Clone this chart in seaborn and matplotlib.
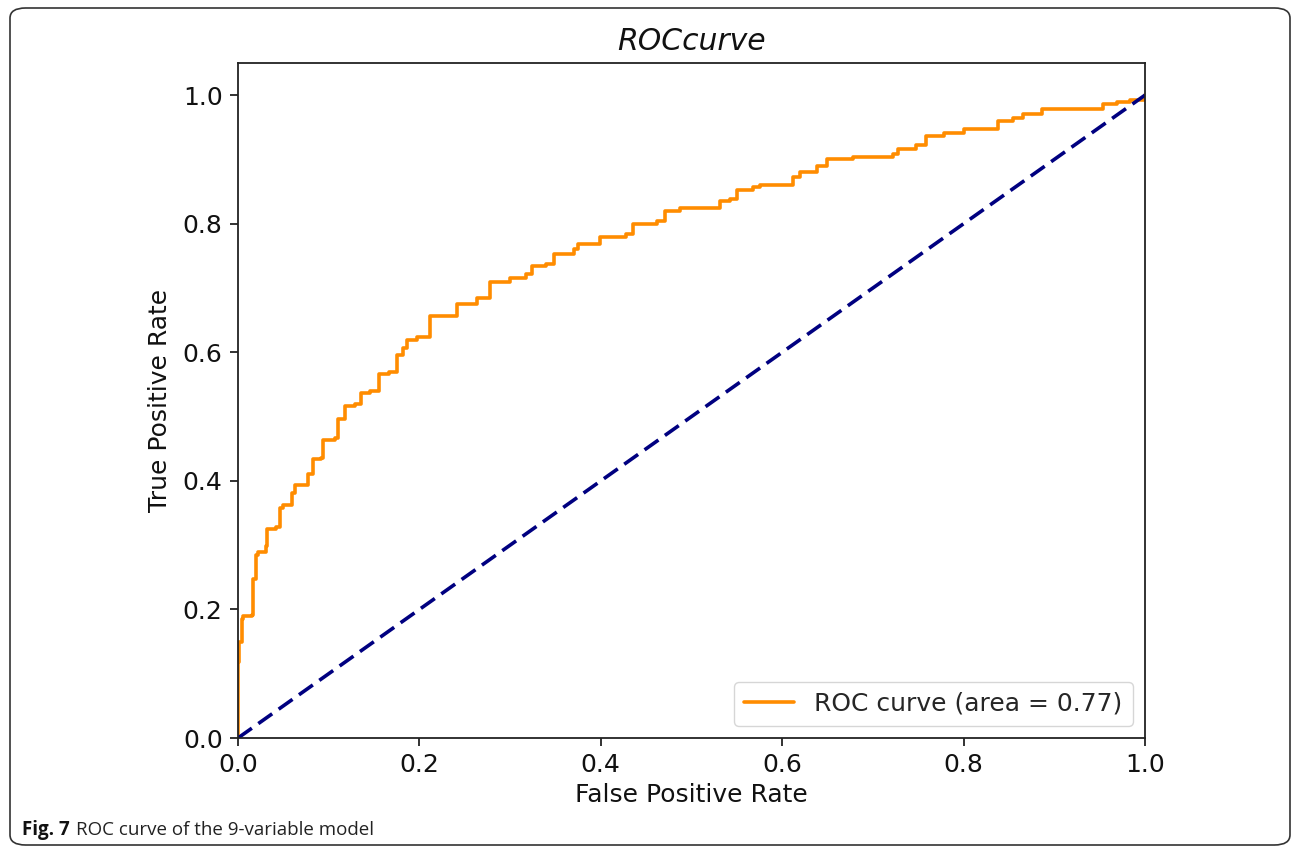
import matplotlib
matplotlib.use("Agg")
import matplotlib.pyplot as plt
from matplotlib.patches import FancyBboxPatch
import seaborn as sns
import pandas as pd

fpr = [0.0, 0.0, 0.001, 0.004, 0.006, 0.015, 0.016, 0.02, 0.022, 0.031,
       0.032, 0.042, 0.046, 0.050, 0.059, 0.063, 0.074, 0.077, 0.083, 0.092,
       0.094, 0.107, 0.110, 0.118, 0.129, 0.136, 0.145, 0.155, 0.166, 0.175,
       0.182, 0.186, 0.197, 0.212, 0.234, 0.241, 0.263, 0.278, 0.300, 0.318,
       0.324, 0.340, 0.348, 0.370, 0.375, 0.395, 0.399, 0.428, 0.436, 0.462,
       0.471, 0.487, 0.520, 0.531, 0.542, 0.550, 0.568, 0.576, 0.598, 0.612,
       0.620, 0.638, 0.649, 0.675, 0.678, 0.711, 0.722, 0.728, 0.748, 0.758,
       0.778, 0.800, 0.836, 0.838, 0.855, 0.866, 0.884, 0.886, 0.943, 0.954,
       0.969, 0.983, 1.0]
tpr = [0.0, 0.119, 0.15, 0.185, 0.19, 0.192, 0.248, 0.285, 0.29, 0.298,
       0.325, 0.328, 0.358, 0.362, 0.381, 0.394, 0.394, 0.41, 0.434, 0.436,
       0.464, 0.466, 0.497, 0.517, 0.519, 0.536, 0.540, 0.566, 0.570, 0.596,
       0.606, 0.619, 0.624, 0.656, 0.656, 0.675, 0.685, 0.709, 0.716, 0.722,
       0.734, 0.738, 0.753, 0.761, 0.768, 0.768, 0.779, 0.784, 0.799, 0.804,
       0.820, 0.825, 0.825, 0.835, 0.838, 0.852, 0.857, 0.861, 0.861, 0.872,
       0.881, 0.890, 0.900, 0.900, 0.904, 0.904, 0.908, 0.917, 0.923, 0.936,
       0.941, 0.947, 0.947, 0.960, 0.964, 0.970, 0.971, 0.978, 0.978, 0.987,
       0.990, 0.992, 1.0]
diag_x = [0.0, 1.0]
diag_y = [0.0, 1.0]
auc_label = "ROC curve (area = 0.77)"
title = "ROCcurve"
xlabel = "False Positive Rate"
ylabel = "True Positive Rate"
caption_bold = "Fig. 7"
caption_text = "ROC curve of the 9-variable model"
ticks = [0.0, 0.2, 0.4, 0.6, 0.8, 1.0]

sns.set_style("ticks")
plt.rcParams['font.family'] = ['DejaVu Sans']

fig = plt.figure(figsize=(12.98, 8.48), dpi=100)
ax = fig.add_axes([238/1298, 1-738/848, (1145-238)/1298, (738-63)/848])

df = pd.DataFrame({"fpr": fpr, "tpr": tpr})
sns.lineplot(data=df, x="fpr", y="tpr", sort=False, estimator=None,
             color="darkorange", lw=2.6, label=auc_label, ax=ax,
             drawstyle="steps-post")
ddf = pd.DataFrame({"x": diag_x, "y": diag_y})
sns.lineplot(data=ddf, x="x", y="y", sort=False, estimator=None,
             color="navy", lw=2.6, ax=ax, dashes=False)
ax.lines[-1].set_dashes((4.7, 2.2))

ax.set_xlim(0.0, 1.0)
ax.set_ylim(0.0, 1.05)
ax.set_xticks(ticks)
ax.set_yticks(ticks)
ax.set_xticklabels([f"{t:.1f}" for t in ticks])
ax.set_yticklabels([f"{t:.1f}" for t in ticks])
ax.tick_params(labelsize=18, length=6, width=1.3, pad=5, color="#222222", labelcolor="#111111")
for s in ax.spines.values():
    s.set_linewidth(1.3)
    s.set_color("#222222")
ax.set_xlabel(xlabel, fontsize=18, color="#111111", labelpad=4)
ax.set_ylabel(ylabel, fontsize=18, color="#111111", labelpad=8)
ax.set_title(title, fontsize=21.5, style="italic", color="#111111", pad=9)
leg = ax.legend(loc="lower right", fontsize=18, frameon=True, fancybox=True,
                borderpad=0.4, handlelength=2.0)
leg.get_frame().set_edgecolor("#cccccc")

frame = FancyBboxPatch((10/1298, 1-845/848), (1290-10)/1298, (845-8)/848,
                       boxstyle="round,pad=0,rounding_size=0.012",
                       transform=fig.transFigure, fill=False,
                       edgecolor="#333333", linewidth=1.2, clip_on=False)
fig.patches.append(frame)

fig.text(22/1298, 1-830/848, caption_bold, fontsize=13.5, fontweight="bold",
         family=["Open Sans", "DejaVu Sans"], va="center", ha="left", color="#111111")
fig.text(76/1298, 1-830/848, caption_text, fontsize=13.5,
         family=["Open Sans", "DejaVu Sans"], va="center", ha="left", color="#222222")

fig.savefig("out.png", dpi=100)
